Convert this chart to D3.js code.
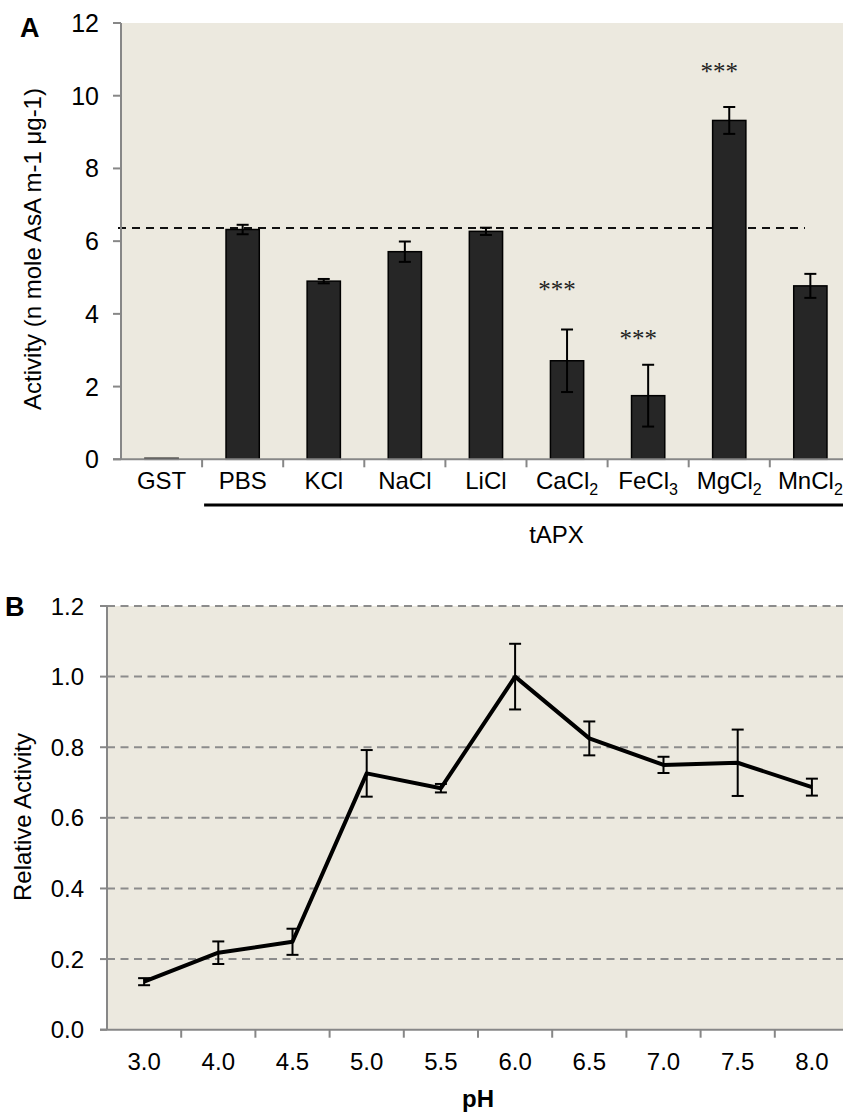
<!DOCTYPE html>
<html>
<head>
<meta charset="utf-8">
<script src="https://cdn.jsdelivr.net/npm/d3@7"></script>
<style>
  body { margin: 0; background: #fff; }
  svg { display: block; font-family: "Liberation Sans", Arial, sans-serif; }
</style>
</head>
<body>
<div id="chart"></div>
<script>
// ---- panel A data ----
var categories = ["GST", "PBS", "KCl", "NaCl", "LiCl", "CaCl2", "FeCl3", "MgCl2", "MnCl2"];
var catBase = ["GST", "PBS", "KCl", "NaCl", "LiCl", "CaCl", "FeCl", "MgCl", "MnCl"];
var catSub = ["", "", "", "", "", "2", "3", "2", "2"];
var activity = [0, 6.32, 4.90, 5.71, 6.27, 2.71, 1.75, 9.32, 4.77];
var activityErr = [0, 0.13, 0.06, 0.28, 0.10, 0.86, 0.85, 0.37, 0.33];
var refLevel = 6.36;
var starCats = ["CaCl2", "FeCl3", "MgCl2"];
var starLevels = [4.74, 3.40, 10.74];
var yTicksA = [0, 2, 4, 6, 8, 10, 12];

// ---- panel B data ----
var phLabels = ["3.0", "4.0", "4.5", "5.0", "5.5", "6.0", "6.5", "7.0", "7.5", "8.0"];
var relActivity = [0.136, 0.218, 0.249, 0.726, 0.684, 1.0, 0.825, 0.750, 0.756, 0.687];
var relErr = [0.010, 0.032, 0.037, 0.066, 0.012, 0.093, 0.048, 0.023, 0.094, 0.024];
var yTicksB = [0, 0.2, 0.4, 0.6, 0.8, 1.0, 1.2];

var W = 843, H = 1115;
var axisGray = "#878787", bg = "#ece9df";

var svg = d3.select("#chart").append("svg")
  .attr("width", W)
  .attr("height", H);

// ****************** Panel A ******************
var a = {left: 121, top: 23, bottom: 459.3, band: 81.1};

var xA = d3.scaleBand()
  .domain(categories)
  .range([a.left, a.left + a.band * categories.length]);

var yA = d3.scaleLinear().domain([0, 12]).range([a.bottom, a.top]);

var gA = svg.append("g");

gA.append("rect")
  .attr("x", a.left).attr("y", a.top)
  .attr("width", W - a.left).attr("height", a.bottom - a.top)
  .attr("fill", bg);

// reference dashed line
gA.append("line")
  .attr("x1", a.left - 3).attr("x2", 805)
  .attr("y1", yA(refLevel)).attr("y2", yA(refLevel))
  .attr("stroke", "#111").attr("stroke-width", 2)
  .attr("stroke-dasharray", "8,6");

var barW = xA.bandwidth() * 0.41;

gA.selectAll("rect.bar")
  .data(categories)
  .enter().append("rect")
  .attr("class", "bar")
  .attr("x", function(d) { return xA(d) + (xA.bandwidth() - barW) / 2; })
  .attr("y", function(d, i) { return Math.min(yA(activity[i]), yA(0) - 1); })
  .attr("width", barW)
  .attr("height", function(d, i) { return Math.max(yA(0) - yA(activity[i]), 1); })
  .attr("fill", "#262626")
  .attr("stroke", "#000")
  .attr("stroke-width", 1.5);

// error bars
var errA = gA.selectAll("g.err")
  .data(categories.filter(function(d, i) { return activityErr[i] > 0; }))
  .enter().append("g")
  .attr("class", "err")
  .attr("stroke", "#000").attr("stroke-width", 2);

errA.each(function(d) {
  var i = categories.indexOf(d);
  var cx = xA(d) + xA.bandwidth() / 2;
  var g = d3.select(this);
  var hi = yA(activity[i] + activityErr[i]), lo = yA(activity[i] - activityErr[i]);
  g.append("line").attr("x1", cx).attr("x2", cx).attr("y1", hi).attr("y2", lo);
  g.append("line").attr("x1", cx - 6).attr("x2", cx + 6).attr("y1", hi).attr("y2", hi);
  g.append("line").attr("x1", cx - 6).attr("x2", cx + 6).attr("y1", lo).attr("y2", lo);
});

// significance stars
gA.selectAll("text.star")
  .data(starCats)
  .enter().append("text")
  .attr("class", "star")
  .attr("x", function(d) { return xA(d) + xA.bandwidth() / 2 - 10; })
  .attr("y", function(d, i) { return yA(starLevels[i]); })
  .attr("dy", "0.45em")
  .attr("text-anchor", "middle")
  .style("font-family", "'Liberation Serif', serif")
  .style("font-size", "25px")
  .attr("fill", "#222")
  .text("***");

// axes
gA.append("line")
  .attr("x1", a.left).attr("x2", a.left)
  .attr("y1", a.top).attr("y2", a.bottom)
  .attr("stroke", axisGray).attr("stroke-width", 2);
gA.append("line")
  .attr("x1", a.left - 8).attr("x2", W)
  .attr("y1", a.bottom).attr("y2", a.bottom)
  .attr("stroke", axisGray).attr("stroke-width", 2);

gA.selectAll("line.ytick")
  .data(yTicksA)
  .enter().append("line")
  .attr("x1", a.left - 8).attr("x2", a.left)
  .attr("y1", function(d) { return yA(d); })
  .attr("y2", function(d) { return yA(d); })
  .attr("stroke", axisGray).attr("stroke-width", 2);

gA.selectAll("text.ytick")
  .data(yTicksA)
  .enter().append("text")
  .attr("x", 99)
  .attr("y", function(d) { return yA(d); })
  .attr("dy", "0.36em")
  .attr("text-anchor", "end")
  .style("font-size", "25px")
  .text(function(d) { return d; });

gA.selectAll("line.xtick")
  .data(categories.slice(1))
  .enter().append("line")
  .attr("x1", function(d) { return xA(d); })
  .attr("x2", function(d) { return xA(d); })
  .attr("y1", a.bottom).attr("y2", a.bottom + 8)
  .attr("stroke", axisGray).attr("stroke-width", 2);

var labA = gA.selectAll("text.xlab")
  .data(categories)
  .enter().append("text")
  .attr("x", function(d) { return xA(d) + xA.bandwidth() / 2; })
  .attr("y", 489)
  .attr("text-anchor", "middle")
  .style("font-size", "24px");
labA.append("tspan").text(function(d, i) { return catBase[i]; });
labA.append("tspan")
  .attr("dy", 6)
  .style("font-size", "16px")
  .text(function(d, i) { return catSub[i]; });

// tAPX bracket
gA.append("line")
  .attr("x1", xA("PBS") + 2).attr("x2", W)
  .attr("y1", 505).attr("y2", 505)
  .attr("stroke", "#000").attr("stroke-width", 3);
gA.append("text")
  .attr("x", xA("CaCl2") + 30)
  .attr("y", 543)
  .attr("text-anchor", "middle")
  .style("font-size", "24px")
  .text("tAPX");

gA.append("text")
  .attr("transform", "translate(41," + 249 + ") rotate(-90)")
  .attr("text-anchor", "middle")
  .style("font-size", "24px")
  .text("Activity (n mole AsA m-1 \u03bcg-1)");

gA.append("text")
  .attr("x", 20).attr("y", 37)
  .style("font-size", "27px").style("font-weight", "bold")
  .text("A");

// ****************** Panel B ******************
var b = {left: 107, top: 606, bottom: 1029.7, band: 74.2};

var xB = d3.scaleBand()
  .domain(phLabels)
  .range([b.left, b.left + b.band * phLabels.length]);

var yB = d3.scaleLinear().domain([0, 1.2]).range([b.bottom, b.top]);

var gB = svg.append("g");

gB.append("rect")
  .attr("x", b.left).attr("y", b.top)
  .attr("width", W - b.left).attr("height", b.bottom - b.top)
  .attr("fill", bg);

// gridlines
gB.selectAll("line.grid")
  .data(yTicksB.slice(1))
  .enter().append("line")
  .attr("x1", b.left).attr("x2", W)
  .attr("y1", function(d) { return yB(d); })
  .attr("y2", function(d) { return yB(d); })
  .attr("stroke", "#8c8c8c").attr("stroke-width", 2)
  .attr("stroke-dasharray", "8,5.5");

// axes
gB.append("line")
  .attr("x1", b.left).attr("x2", b.left)
  .attr("y1", b.top).attr("y2", b.bottom)
  .attr("stroke", axisGray).attr("stroke-width", 2);
gB.append("line")
  .attr("x1", b.left - 7).attr("x2", W)
  .attr("y1", b.bottom).attr("y2", b.bottom)
  .attr("stroke", axisGray).attr("stroke-width", 2);

gB.selectAll("line.ytick")
  .data(yTicksB)
  .enter().append("line")
  .attr("x1", b.left - 7).attr("x2", b.left)
  .attr("y1", function(d) { return yB(d); })
  .attr("y2", function(d) { return yB(d); })
  .attr("stroke", axisGray).attr("stroke-width", 2);

gB.selectAll("text.ytick")
  .data(yTicksB)
  .enter().append("text")
  .attr("x", 84)
  .attr("y", function(d) { return yB(d); })
  .attr("dy", "0.36em")
  .attr("text-anchor", "end")
  .style("font-size", "24px")
  .text(function(d) { return d.toFixed(1); });

gB.selectAll("line.xtick")
  .data(phLabels.slice(1))
  .enter().append("line")
  .attr("x1", function(d) { return xB(d); })
  .attr("x2", function(d) { return xB(d); })
  .attr("y1", b.bottom).attr("y2", b.bottom + 8)
  .attr("stroke", axisGray).attr("stroke-width", 2);

gB.selectAll("text.xlab")
  .data(phLabels)
  .enter().append("text")
  .attr("x", function(d) { return xB(d) + xB.bandwidth() / 2; })
  .attr("y", 1070)
  .attr("text-anchor", "middle")
  .style("font-size", "24px")
  .text(function(d) { return d; });

// error bars
gB.selectAll("g.err")
  .data(phLabels)
  .enter().append("g")
  .attr("stroke", "#000").attr("stroke-width", 2)
  .each(function(d, i) {
    var cx = xB(d) + xB.bandwidth() / 2;
    var g = d3.select(this);
    var hi = yB(relActivity[i] + relErr[i]), lo = yB(relActivity[i] - relErr[i]);
    g.append("line").attr("x1", cx).attr("x2", cx).attr("y1", hi).attr("y2", lo);
    g.append("line").attr("x1", cx - 6).attr("x2", cx + 6).attr("y1", hi).attr("y2", hi);
    g.append("line").attr("x1", cx - 6).attr("x2", cx + 6).attr("y1", lo).attr("y2", lo);
  });

var line = d3.line()
  .x(function(d) { return xB(d) + xB.bandwidth() / 2; })
  .y(function(d, i) { return yB(relActivity[i]); });

gB.append("path")
  .datum(phLabels)
  .attr("d", line)
  .attr("fill", "none")
  .attr("stroke", "#000")
  .attr("stroke-width", 4)
  .attr("stroke-linejoin", "round");

gB.append("text")
  .attr("x", xB("6.0"))
  .attr("y", 1107)
  .attr("text-anchor", "middle")
  .style("font-size", "24px").style("font-weight", "bold")
  .text("pH");

gB.append("text")
  .attr("transform", "translate(31," + 817 + ") rotate(-90)")
  .attr("text-anchor", "middle")
  .style("font-size", "24px")
  .text("Relative Activity");

gB.append("text")
  .attr("x", 5).attr("y", 616)
  .style("font-size", "27px").style("font-weight", "bold")
  .text("B");
</script>
</body>
</html>
